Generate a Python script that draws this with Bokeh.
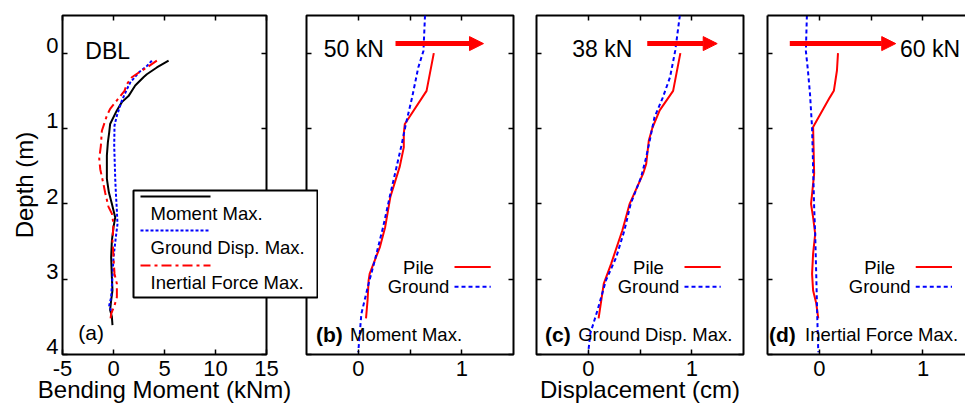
from bokeh.plotting import figure
from bokeh.models import (Range1d, LinearAxis, FixedTicker, Label, Arrow, NormalHead)
from bokeh.layouts import row
from bokeh.embed import file_html
from bokeh.resources import INLINE

FONT = "Liberation Sans"

# ---------------- data ----------------
depth_ticks = [0, 1, 2, 3, 4]
moment_ticks = [-5, 0, 5, 10, 15]
moment_tick_labels = ["-5", "0", "5", "10", "15"]
disp_ticks = [0, 1]
disp_minor = [0.5]

# (a) bending moment envelopes (kNm) vs depth (m)
a_mom_depth = [0.10, 0.19, 0.28, 0.32, 0.43, 0.57, 0.65, 0.76, 0.94, 1.05, 1.18, 1.36,
               1.67, 1.85, 2.00, 2.18, 2.31, 2.49, 2.71, 2.97, 3.15, 3.28, 3.41, 3.50, 3.61]
a_mom_val = [5.4, 4.25, 3.27, 2.94, 2.13, 1.47, 0.82, 0.33, -0.33, -0.42, -0.55, -0.65,
             -0.65, -0.45, -0.16, 0.17, 0.0, -0.16, -0.23, -0.16, -0.1, -0.23, -0.33, -0.16, -0.1]
a_gnd_depth = [0.10, 0.17, 0.26, 0.39, 0.48, 0.63, 0.83, 0.96, 1.23, 1.67, 1.85, 2.09,
               2.27, 2.44, 2.71, 2.97, 3.24, 3.35, 3.45]
a_gnd_val = [3.76, 3.27, 2.45, 1.64, 1.31, 0.82, 0.33, 0.1, 0.07, 0.17, 0.23, 0.33,
             0.39, 0.23, 0.0, -0.1, -0.23, -0.42, -0.16]
a_inr_depth = [0.10, 0.19, 0.26, 0.32, 0.41, 0.50, 0.74, 0.83, 1.03, 1.23, 1.40, 1.54,
               1.74, 1.85, 2.04, 2.13, 2.27, 2.49, 2.71, 2.93, 3.06, 3.24, 3.35, 3.46, 3.57]
a_inr_val = [4.25, 3.27, 2.45, 1.8, 1.31, 1.08, -0.33, -0.65, -1.14, -1.24, -1.4, -1.3,
             -0.98, -0.82, -0.49, -0.16, 0.0, -0.1, 0.0, 0.1, 0.33, 0.33, 0.1, -0.23, -0.33]

# (b) Moment Max. displacement (cm)
b_pile_depth = [0.00, 0.50, 0.94, 1.07, 1.25, 1.51, 1.91, 2.31, 2.57, 2.93, 3.02, 3.28, 3.52]
b_pile_disp = [0.73, 0.66, 0.45, 0.44, 0.44, 0.40, 0.31, 0.26, 0.21, 0.11, 0.10, 0.09, 0.075]
b_gnd_depth = [-0.50, -0.03, 0.19, 0.59, 0.94, 1.21, 1.51, 1.87, 2.31, 2.75, 3.06, 3.46, 3.97]
b_gnd_disp = [0.645, 0.63, 0.58, 0.52, 0.46, 0.42, 0.37, 0.31, 0.24, 0.16, 0.10, 0.03, 0.0]

# (c) Ground Disp. Max.
c_pile_depth = [0.00, 0.50, 0.76, 0.99, 1.16, 1.47, 1.60, 2.00, 2.35, 2.80, 3.06, 3.52]
c_pile_disp = [0.89, 0.82, 0.69, 0.62, 0.585, 0.56, 0.53, 0.40, 0.33, 0.22, 0.15, 0.10]
c_gnd_depth = [-0.50, -0.03, 0.32, 0.59, 0.85, 1.12, 1.38, 1.65, 2.00, 2.35, 2.71, 3.02,
               3.41, 3.72, 3.97]
c_gnd_disp = [0.885, 0.84, 0.79, 0.72, 0.64, 0.60, 0.56, 0.51, 0.41, 0.35, 0.27, 0.17,
              0.09, 0.02, 0.0]

# (d) Inertial Force Max.
d_pile_depth = [0.00, 0.23, 0.50, 0.59, 0.98, 1.60, 1.87, 2.00, 2.18, 2.40, 2.66, 2.93,
                3.15, 3.32, 3.52]
d_pile_disp = [0.18, 0.17, 0.14, 0.10, -0.06, -0.05, -0.07, -0.08, -0.06, -0.04, -0.06,
               -0.07, -0.06, -0.03, -0.01]
d_gnd_depth = [-0.50, -0.03, 0.23, 0.54, 0.99, 1.52, 2.04, 2.40, 2.93, 3.50, 3.97]
d_gnd_disp = [-0.12, -0.13, -0.11, -0.09, -0.07, -0.06, -0.05, -0.04, -0.03, -0.02, -0.01]

forces_kN = [50, 38, 60]
panel_tags = ["(b)", "(c)", "(d)"]
panel_cases = ["Moment Max.", "Ground Disp. Max.", "Inertial Force Max."]
legend_a_labels = ["Moment Max.", "Ground Disp. Max.", "Inertial Force Max."]
legend_bcd_labels = ["Pile", "Ground"]


def make_axis(ticks, minor=(), labels=True, label=None, line=False, tick_len=5, overrides=None):
    ax = LinearAxis(ticker=FixedTicker(ticks=list(ticks), minor_ticks=list(minor)))
    ax.major_tick_in = tick_len
    ax.major_tick_out = 0
    ax.minor_tick_in = tick_len
    ax.minor_tick_out = 0
    ax.major_tick_line_width = 1.5
    ax.minor_tick_line_width = 1.5
    ax.major_tick_line_color = "black" if tick_len else None
    ax.minor_tick_line_color = "black" if tick_len else None
    if line:
        ax.axis_line_color = "black"
        ax.axis_line_width = 2
    else:
        ax.axis_line_color = None
    if labels:
        ax.major_label_text_font = FONT
        ax.major_label_text_font_size = "22px"
        ax.major_label_text_color = "black"
        if overrides:
            ax.major_label_overrides = overrides
    else:
        ax.major_label_overrides = {t: "" for t in ticks}
        ax.major_label_text_font_size = "1px"
        ax.major_label_standoff = 0
    if label:
        ax.axis_label = label
        ax.axis_label_text_font = FONT
        ax.axis_label_text_font_size = "24px"
        ax.axis_label_text_font_style = "normal"
        ax.axis_label_text_color = "black"
    return ax


def make_fig(width, xr, left, right, outline=True):
    p = figure(width=width, height=405, x_range=Range1d(*xr), y_range=Range1d(4, -0.5),
               x_axis_location=None, y_axis_location=None,
               min_border_left=left, min_border_right=right,
               min_border_top=15, min_border_bottom=51,
               output_backend="svg", toolbar_location=None)
    p.grid.visible = False
    p.outline_line_color = "black" if outline else None
    p.outline_line_width = 2
    p.border_fill_color = None
    p.background_fill_color = "white"
    return p


def label(p, x, y, text, size, bold=False, align="left", baseline="alphabetic"):
    p.add_layout(Label(x=x, y=y, text=text, text_font=FONT, text_font_size=size,
                       text_font_style="bold" if bold else "normal",
                       text_baseline=baseline, text_align=align, text_color="black"))


def force_arrow(p, x0, x1, y):
    p.add_layout(Arrow(end=NormalHead(size=14, fill_color="red", line_color="red"),
                       x_start=x0, y_start=y, x_end=x1, y_end=y,
                       line_color="red", line_width=5))


# ---------------- panel (a) ----------------
pa = make_fig(318, (-5, 15), 62, 52)
pa.add_layout(make_axis(depth_ticks, labels=False), "left")
# depth labels sit just above their ticks (as in the original figure)
ax = make_axis([t - 0.1 for t in depth_ticks], tick_len=0, label="Depth (m)",
               overrides={t - 0.1: str(t) for t in depth_ticks})
ax.major_label_standoff = 4
pa.add_layout(ax, "left")
ax = make_axis(moment_ticks, label="Bending Moment (kNm)",
               overrides=dict(zip(moment_ticks, moment_tick_labels)))
ax.major_label_standoff = 6
ax.axis_label_standoff = -3
pa.add_layout(ax, "below")
pa.add_layout(make_axis(moment_ticks, labels=False), "above")
pa.add_layout(make_axis(depth_ticks, labels=False), "right")

pa.line(a_mom_val, a_mom_depth, line_color="black", line_width=2)
pa.line(a_gnd_val, a_gnd_depth, line_color="blue", line_width=2, line_dash="3 2")
pa.line(a_inr_val, a_inr_depth, line_color="red", line_width=2, line_dash="10 4 3 4")

label(pa, -2.76, -0.03, "DBL", "23px")
label(pa, -3.45, 3.71, "(a)", "21px")

# ---------------- legend box of panel (a), floating over panels (a) and (b) ----------------
# borders match the other plots of the row (the row aligns them), frame is the legend box
lf = figure(width=186, height=173, title=None,
            x_range=Range1d(0, 184), y_range=Range1d(107, 0),
            x_axis_location=None, y_axis_location=None,
            min_border_left=1, min_border_right=1, min_border_top=15, min_border_bottom=51,
            output_backend="svg", toolbar_location=None)
lf.grid.visible = False
lf.outline_line_color = "black"
lf.outline_line_width = 2
lf.border_fill_color = None
lf.background_fill_color = "white"
leg_styles = [dict(line_color="black"),
              dict(line_color="blue", line_dash="3 2"),
              dict(line_color="red", line_dash="10 4 3 4")]
leg_line_y = [6, 40, 75]
for k, lab in enumerate(legend_a_labels):
    lf.line([7, 77], [leg_line_y[k], leg_line_y[k]], line_width=2, **leg_styles[k])
    label(lf, 17, leg_line_y[k] + 17, lab, "18.5px", baseline="middle")
lf.styles = {"position": "absolute", "left": "132px", "top": "175px", "z-index": "10"}

# ---------------- panels (b)-(d) ----------------
pb = make_fig(230, (-0.5, 1.5), 4, 19)
pc = make_fig(231, (-0.5, 1.5), 4, 20)
pd = make_fig(202, (-0.5, 1.41), 4, 0, outline=False)
pb.margin = (0, 0, 0, -16)

panels = [pb, pc, pd]
piles = [(b_pile_disp, b_pile_depth), (c_pile_disp, c_pile_depth), (d_pile_disp, d_pile_depth)]
grounds = [(b_gnd_disp, b_gnd_depth), (c_gnd_disp, c_gnd_depth), (d_gnd_disp, d_gnd_depth)]
force_text_x = [-0.333, -0.155, 0.778]
arrow_x = [(0.36, 1.21), (0.57, 1.246), (-0.285, 0.737)]
tag_x = [-0.409, -0.418, -0.486]
case_x = [-0.080, -0.097, -0.138]

for i, p in enumerate(panels):
    is_d = (p is pd)
    ax = make_axis(disp_ticks, disp_minor, label="Displacement (cm)" if p is pc else None, line=is_d)
    ax.major_label_standoff = 6
    ax.axis_label_standoff = -3
    p.add_layout(ax, "below")
    p.add_layout(make_axis(disp_ticks, disp_minor, labels=False, line=is_d), "above")
    p.add_layout(make_axis(depth_ticks, labels=False, line=is_d), "left")
    if not is_d:
        p.add_layout(make_axis(depth_ticks, labels=False), "right")
    p.line(piles[i][0], piles[i][1], line_color="red", line_width=2)
    p.line(grounds[i][0], grounds[i][1], line_color="blue", line_width=2, line_dash="4 3")
    # key: label to the left of its line sample
    p.line([0.93, 1.28], [2.84, 2.84], line_color="red", line_width=2)
    p.line([0.93, 1.28], [3.10, 3.10], line_color="blue", line_width=2, line_dash="4 3")
    label(p, 0.582, 2.84, legend_bcd_labels[0], "18.5px", align="center", baseline="middle")
    label(p, 0.582, 3.10, legend_bcd_labels[1], "18.5px", align="center", baseline="middle")
    label(p, force_text_x[i], -0.05, f"{forces_kN[i]} kN", "23px")
    force_arrow(p, arrow_x[i][0], arrow_x[i][1], -0.127)
    label(p, tag_x[i], 3.74, panel_tags[i], "21px", bold=True)
    label(p, case_x[i], 3.74, panel_cases[i], "18.5px")

layout = row(pa, lf, pb, pc, pd)
open("out.html", "w").write(file_html(layout, INLINE))
